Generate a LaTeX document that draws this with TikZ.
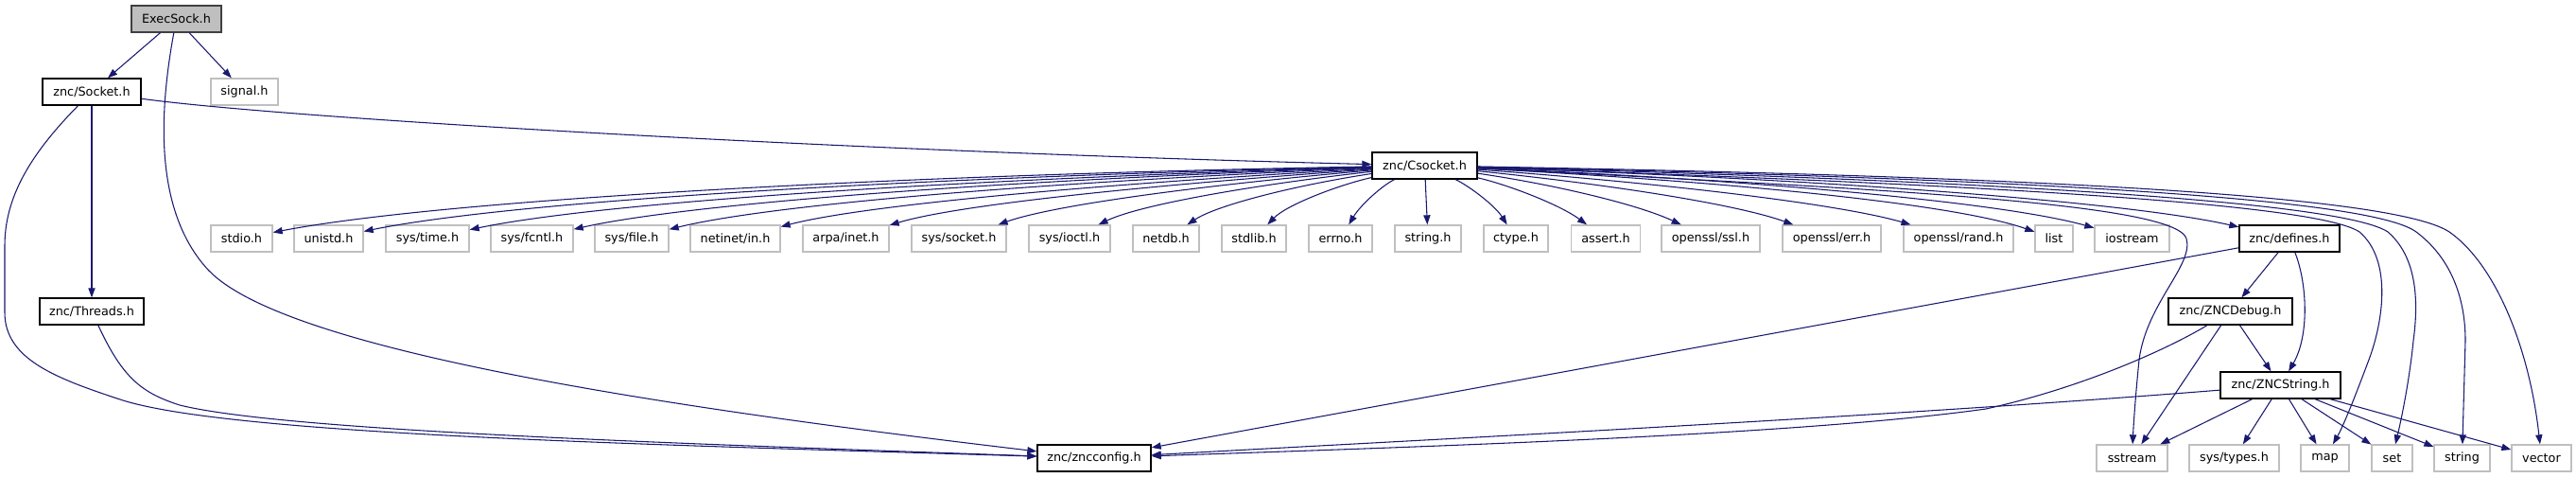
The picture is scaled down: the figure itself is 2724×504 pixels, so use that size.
\documentclass[tikz,border=0pt]{standalone}
\usepackage{fontspec}
\setmainfont{DejaVu Sans}
\usetikzlibrary{arrows.meta}
\definecolor{edgeblue}{RGB}{25,25,112}
\definecolor{extgray}{RGB}{191,191,191}
\definecolor{mainfill}{RGB}{191,191,191}
\tikzset{
  box/.style={rectangle, inner xsep=0pt, inner ysep=0pt, minimum height=21pt,
    font=\fontsize{9.6}{11}\selectfont, text=black, fill=white},
  intnode/.style={box, draw=black, line width=1pt},
  extnode/.style={box, draw=extgray, line width=1pt},
  mainnode/.style={box, draw=black!75, fill=mainfill, line width=1pt},
  wd/.style={minimum width=#1*0.75pt},
  dep/.style={draw=edgeblue, line width=0.8pt, -{Triangle[length=7.5pt,width=5.4pt]}}
}
\begin{document}
\begin{tikzpicture}[x=0.75pt,y=-0.75pt]
\useasboundingbox (0,0) rectangle (2724,504);
% nodes
\node[mainnode, wd=95]  (exec) at (186.5,20) {ExecSock.h};
\node[intnode, wd=104]  (sock) at (97,97) {znc/Socket.h};
\node[extnode, wd=71]   (sig)  at (258.5,97) {signal.h};
\node[intnode, wd=111]  (cs)   at (1506.5,175) {znc/Csocket.h};
\node[extnode, wd=65]   (stdio) at (255.5,252) {stdio.h};
\node[extnode, wd=73]   (unistd) at (347.5,252) {unistd.h};
\node[extnode, wd=88]   (systime) at (452,252) {sys/time.h};
\node[extnode, wd=87]   (sysfcntl) at (562.5,252) {sys/fcntl.h};
\node[extnode, wd=78]   (sysfile) at (668,252) {sys/file.h};
\node[extnode, wd=95]   (netinet) at (777.5,252) {netinet/in.h};
\node[extnode, wd=91]   (arpa) at (894.5,252) {arpa/inet.h};
\node[extnode, wd=100]  (syssocket) at (1014,252) {sys/socket.h};
\node[extnode, wd=86]   (sysioctl) at (1131,252) {sys/ioctl.h};
\node[extnode, wd=70]   (netdb) at (1233,252) {netdb.h};
\node[extnode, wd=68]   (stdlib) at (1326,252) {stdlib.h};
\node[extnode, wd=67]   (errno) at (1417.5,252) {errno.h};
\node[extnode, wd=70]   (stringh) at (1510,252) {string.h};
\node[extnode, wd=68]   (ctype) at (1603,252) {ctype.h};
\node[extnode, wd=73]   (assert) at (1698,252) {assert.h};
\node[extnode, wd=104]  (sslh) at (1809,252) {openssl/ssl.h};
\node[extnode, wd=104]  (errh) at (1937,252) {openssl/err.h};
\node[extnode, wd=116]  (randh) at (2071,252) {openssl/rand.h};
\node[extnode, wd=40]   (list) at (2172,252) {list};
\node[extnode, wd=79]   (iostream) at (2254.5,252) {iostream};
\node[intnode, wd=106]  (defs) at (2421,252) {znc/defines.h};
\node[intnode, wd=110]  (thr) at (97,329) {znc/Threads.h};
\node[intnode, wd=131]  (zdbg) at (2358.5,329) {znc/ZNCDebug.h};
\node[intnode, wd=127]  (zstr) at (2411.5,407) {znc/ZNCString.h};
\node[intnode, wd=120]  (zncc) at (1157,484) {znc/zncconfig.h};
\node[extnode, wd=75]   (sstream) at (2254.5,484) {sstream};
\node[extnode, wd=95]   (systypes) at (2362.5,484) {sys/types.h};
\node[extnode, wd=51]   (map) at (2458.5,484) {map};
\node[extnode, wd=43]   (set) at (2529.5,484) {set};
\node[extnode, wd=59]   (string) at (2603.5,484) {string};
\node[extnode, wd=63]   (vector) at (2687.5,484) {vector};
% ExecSock.h
\draw[dep] (exec) -- (sock);
\draw[dep] (exec) -- (sig);
\draw[dep] (exec) .. controls (170,110) and (160,220) .. (220,285) .. controls (300,370) and (700,430) .. (zncc);
% Socket.h
\draw[dep] (sock) .. controls (300,125) and (900,160) .. (cs);
\draw[dep] (sock) -- (thr);
\draw[dep] (sock) .. controls (30,165) and (5,210) .. (5,260) -- (5,330) .. controls (5,380) and (60,400) .. (130,423) .. controls (250,460) and (700,470) .. (zncc);
% Threads.h
\draw[dep] (thr) .. controls (130,400) and (150,415) .. (190,428) .. controls (300,455) and (700,468) .. (zncc);
% Csocket.h, left side
\draw[dep] (cs) .. controls (928,185) and (462,212) .. (stdio);
\draw[dep] (cs) .. controls (971,187) and (544,212) .. (unistd);
\draw[dep] (cs) .. controls (1021,189) and (639,213) .. (systime);
\draw[dep] (cs) .. controls (1071,190) and (733,214) .. (sysfcntl);
\draw[dep] (cs) .. controls (1116,192) and (819,215) .. (sysfile);
\draw[dep] (cs) .. controls (1168,194) and (916,216) .. (netinet);
\draw[dep] (cs) .. controls (1221,195) and (1013,216) .. (arpa);
\draw[dep] (cs) .. controls (1278,195) and (1116,216) .. (syssocket);
\draw[dep] (cs) .. controls (1328,195) and (1206,216) .. (sysioctl);
\draw[dep] (cs) .. controls (1374,195) and (1288,216) .. (netdb);
\draw[dep] (cs) .. controls (1417,195) and (1361,216) .. (stdlib);
\draw[dep] (cs) .. controls (1463,195) and (1439,216) .. (errno);
\draw[dep] (cs) -- (stringh);
\draw[dep] (cs) .. controls (1551,195) and (1580,216) .. (ctype);
\draw[dep] (cs) .. controls (1594,195) and (1649,216) .. (assert);
% Csocket.h, right side
\draw[dep] (cs) .. controls (1644,195) and (1732,216) .. (sslh);
\draw[dep] (cs) .. controls (1704,195) and (1837,216) .. (errh);
\draw[dep] (cs) .. controls (1766,194) and (1947,216) .. (randh);
\draw[dep] (cs) .. controls (1829,192) and (2066,215) .. (list);
\draw[dep] (cs) .. controls (1857,190) and (2119,214) .. (iostream);
\draw[dep] (cs) .. controls (1926,189) and (2249,213) .. (defs);
\draw[dep] (cs) .. controls (2000,200) and (2300,215) .. (2312,252) .. controls (2320,280) and (2270,320) .. (2262,380) .. controls (2258,420) and (2256,450) .. (sstream);
\draw[dep] (cs) .. controls (2100,195) and (2450,215) .. (2495,245) .. controls (2530,275) and (2520,340) .. (2505,380) .. controls (2490,420) and (2478,450) .. (map);
\draw[dep] (cs) .. controls (2150,192) and (2480,215) .. (2525,245) .. controls (2560,275) and (2556,330) .. (2552,360) .. controls (2548,400) and (2540,440) .. (set);
\draw[dep] (cs) .. controls (2200,190) and (2510,212) .. (2555,245) .. controls (2595,275) and (2607,320) .. (2607,360) -- (string);
\draw[dep] (cs) .. controls (2250,188) and (2540,212) .. (2590,245) .. controls (2640,280) and (2675,370) .. (vector);
% defines.h
\draw[dep] (defs) -- (zdbg);
\draw[dep] (defs) .. controls (2440,300) and (2442,355) .. (zstr);
\draw[dep] (defs) -- (zncc);
% ZNCDebug.h
\draw[dep] (zdbg) -- (zstr);
\draw[dep] (zdbg) -- (sstream);
\draw[dep] (zdbg) .. controls (2290,370) and (2200,410) .. (2100,432) .. controls (1900,460) and (1500,472) .. (zncc);
% ZNCString.h
\draw[dep] (zstr) .. controls (2000,440) and (1500,465) .. (zncc);
\draw[dep] (zstr) -- (sstream);
\draw[dep] (zstr) -- (systypes);
\draw[dep] (zstr) -- (map);
\draw[dep] (zstr) -- (set);
\draw[dep] (zstr) -- (string);
\draw[dep] (zstr) -- (vector);
\end{tikzpicture}
\end{document}
